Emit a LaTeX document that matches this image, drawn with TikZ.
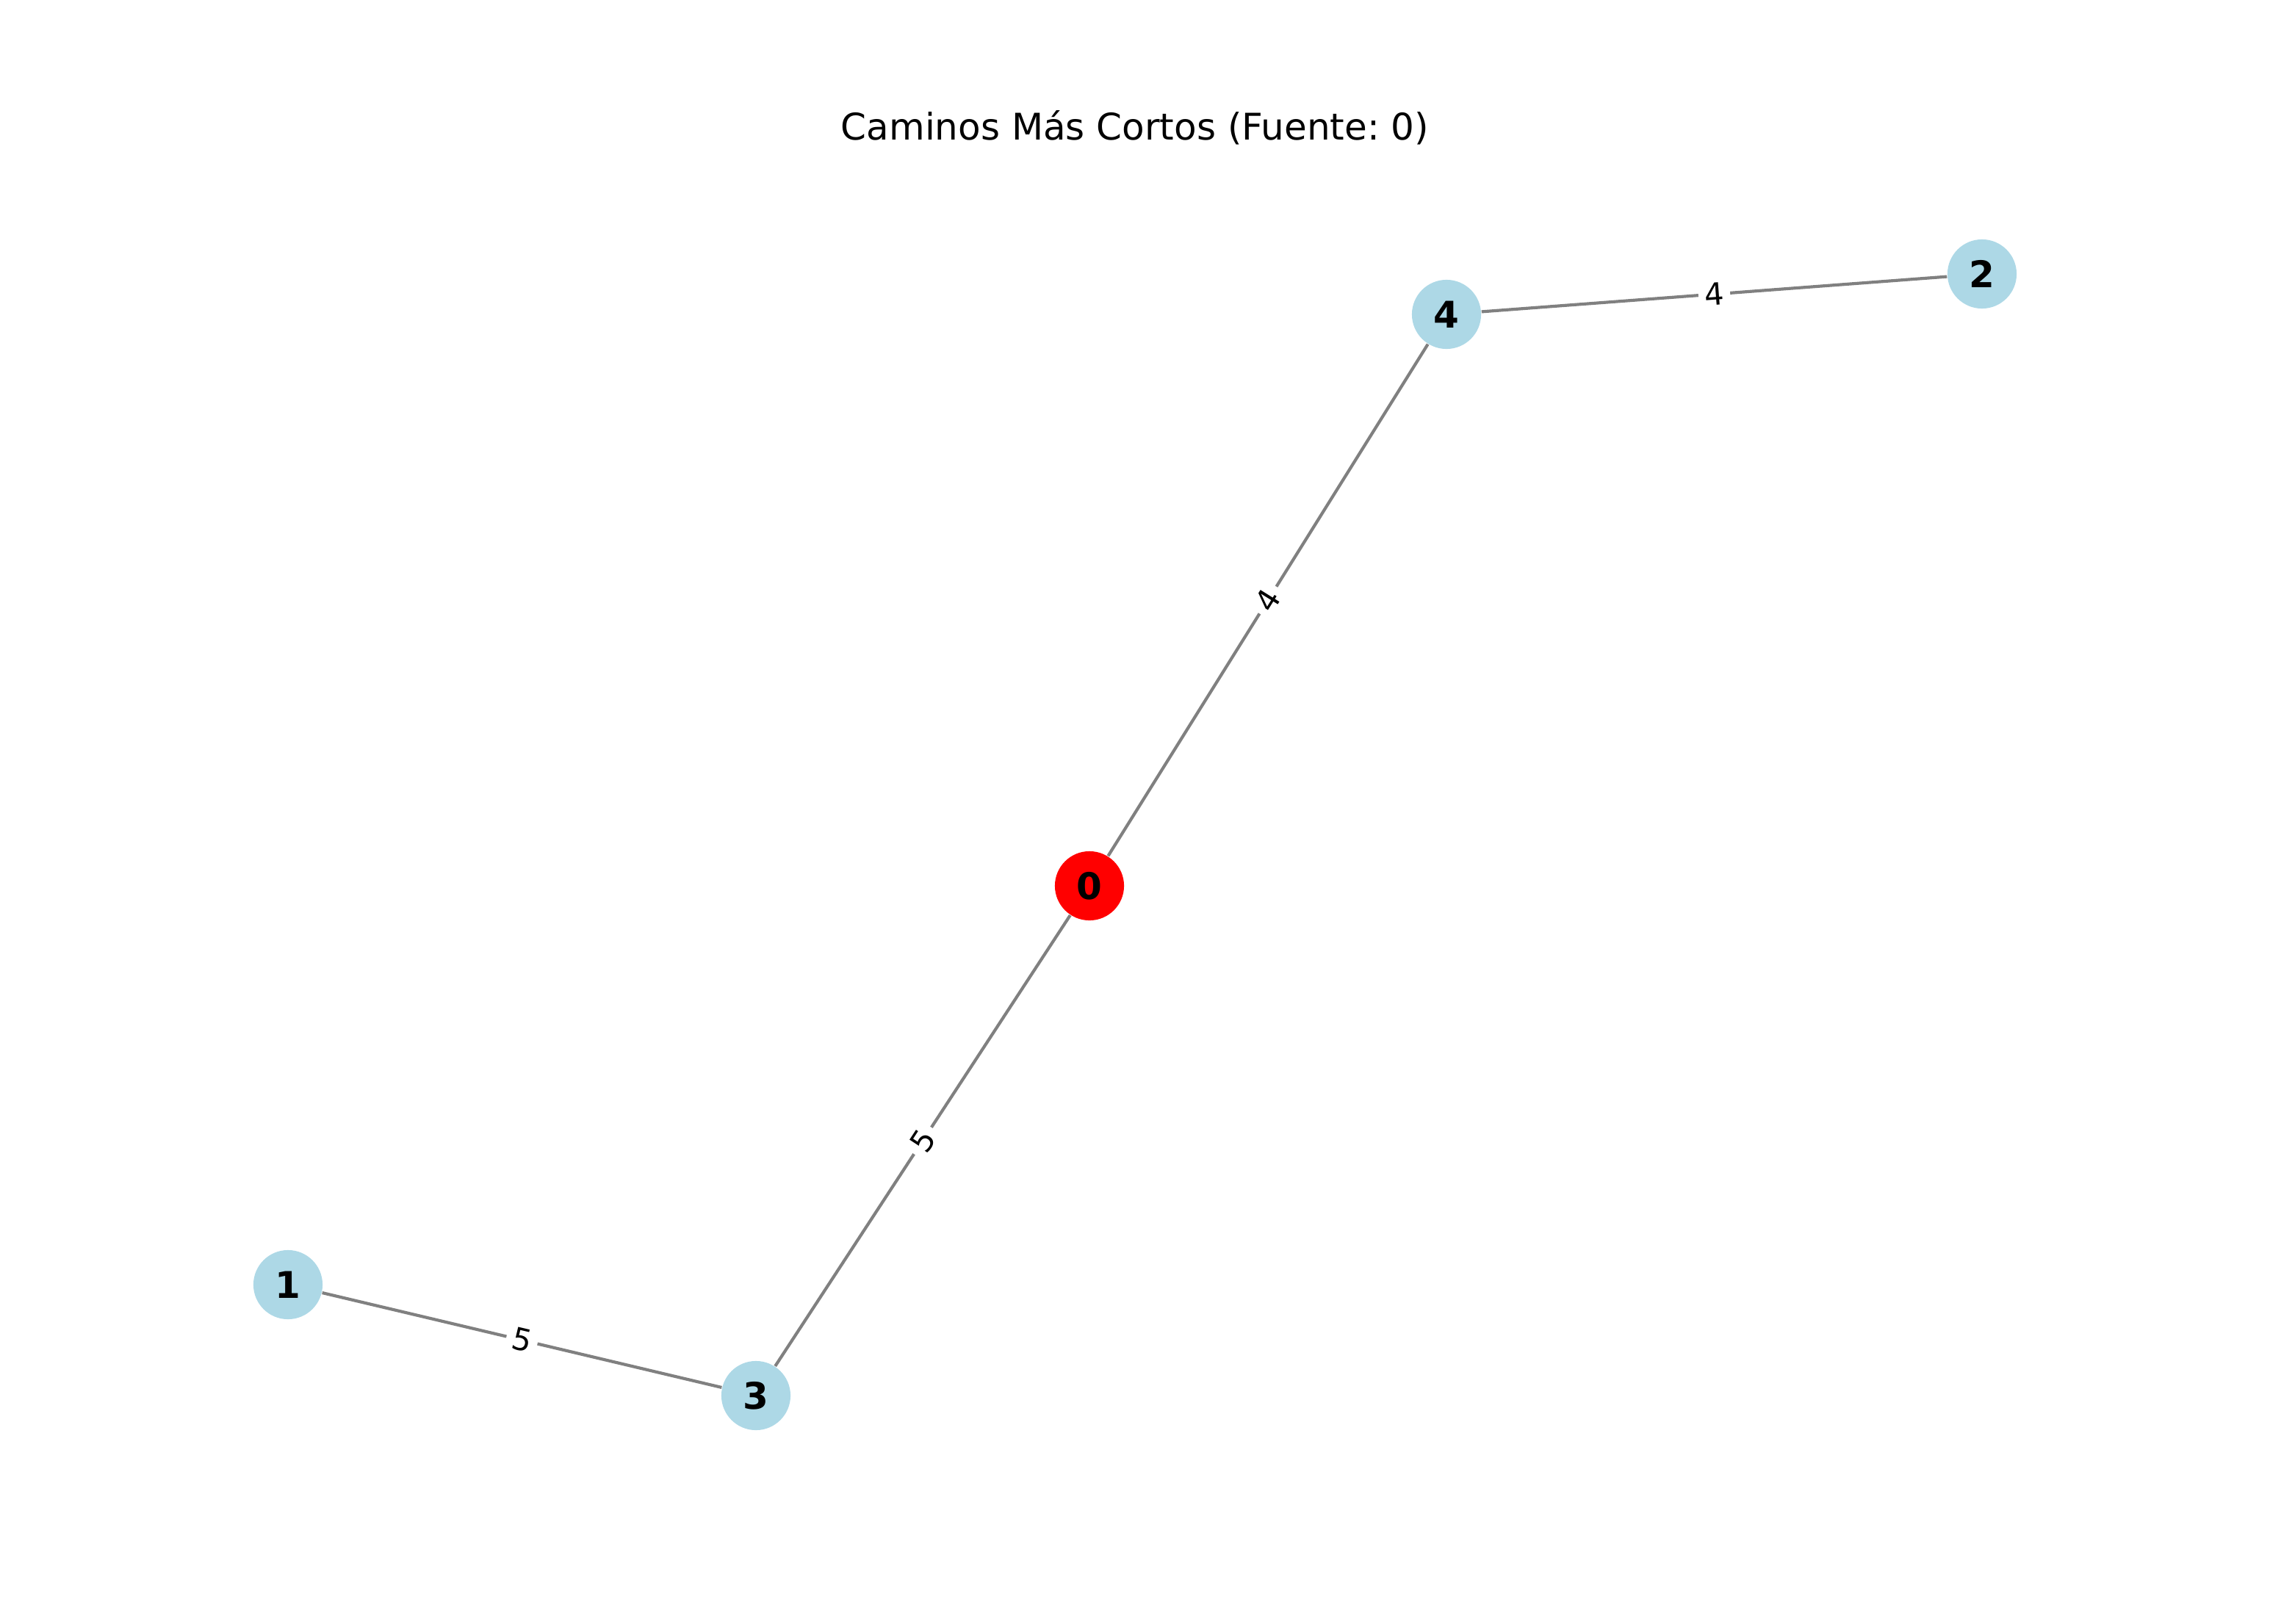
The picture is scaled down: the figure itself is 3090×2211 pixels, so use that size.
\documentclass[tikz,border=0pt]{standalone}
\usepackage{fontspec}
\setmainfont{DejaVu Sans}
\definecolor{lightblue}{HTML}{ADD8E6}
\definecolor{edgegray}{HTML}{808080}
\frenchspacing
\begin{document}
\begin{tikzpicture}[x=0.24pt,y=-0.24pt,
  vtx/.style={circle,fill=lightblue,minimum size=22.6pt,inner sep=0pt,font=\fontsize{12}{14}\selectfont\bfseries},
  src/.style={vtx,fill=red},
  edge/.style={draw=edgegray,line width=1pt},
  wlabel/.style={sloped,fill=white,rounded corners=2pt,inner sep=2pt,font=\fontsize{10}{12}\selectfont}]
\useasboundingbox (0,0) rectangle (3090,2211);
\node[anchor=base,font=\fontsize{12}{14}\selectfont] (title) at (1545,191) {Caminos Más Cortos (Fuente: 0)};
\node[src] (n0) at (1483,1206) {0};
\node[vtx] (n4) at (1969,428) {4};
\node[vtx] (n2) at (2698,373) {2};
\node[vtx] (n1) at (392,1749) {1};
\node[vtx] (n3) at (1029,1900) {3};
\draw[edge] (n0) -- (n4) node[midway,wlabel]{4};
\draw[edge] (n4) -- (n2) node[midway,wlabel]{4};
\draw[edge] (n3) -- (n0) node[midway,wlabel]{5};
\draw[edge] (n1) -- (n3) node[midway,wlabel]{5};
\end{tikzpicture}
\end{document}
